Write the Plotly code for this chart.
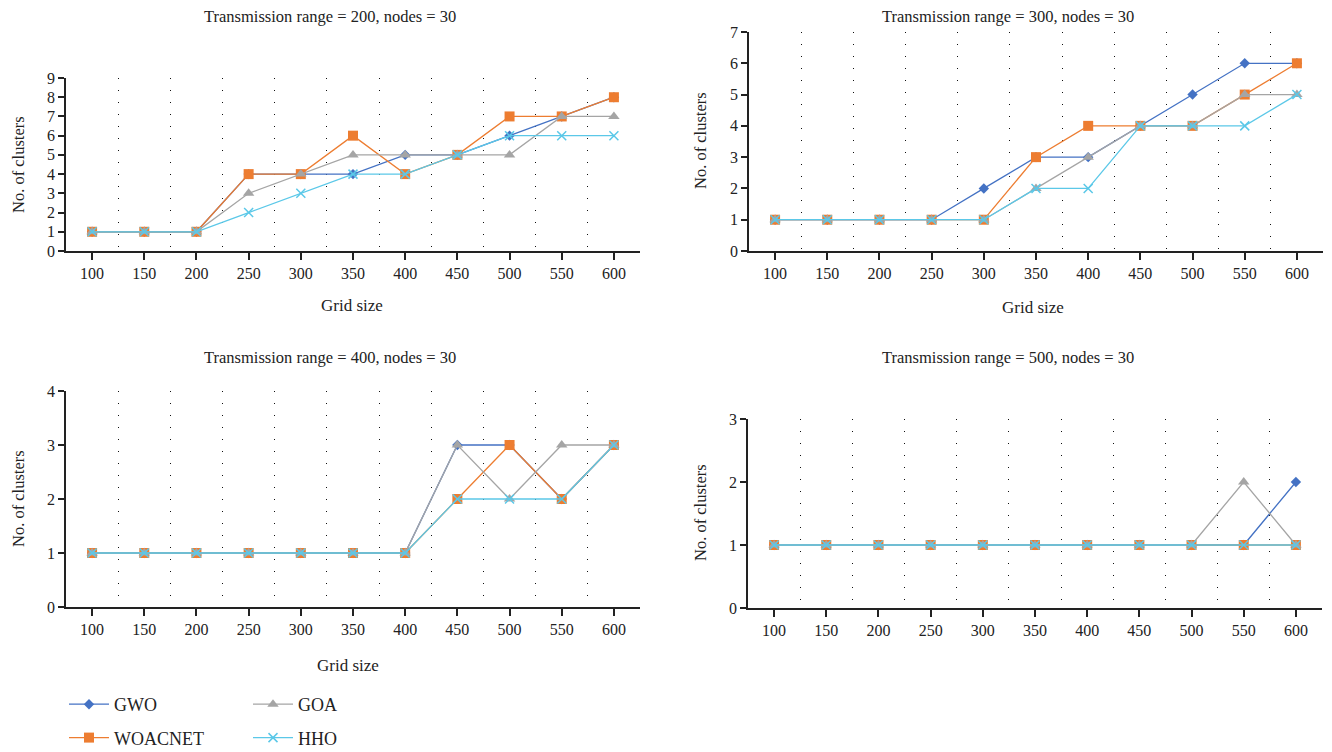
import plotly.graph_objects as go

grid = [100, 150, 200, 250, 300, 350, 400, 450, 500, 550, 600]
boundaries = [125, 175, 225, 275, 325, 375, 425, 475, 525, 575, 625]

# Transmission range = 200
gwo_200 = [1, 1, 1, 4, 4, 4, 5, 5, 6, 7, 8]
woa_200 = [1, 1, 1, 4, 4, 6, 4, 5, 7, 7, 8]
goa_200 = [1, 1, 1, 3, 4, 5, 5, 5, 5, 7, 7]
hho_200 = [1, 1, 1, 2, 3, 4, 4, 5, 6, 6, 6]

# Transmission range = 300
gwo_300 = [1, 1, 1, 1, 2, 3, 3, 4, 5, 6, 6]
woa_300 = [1, 1, 1, 1, 1, 3, 4, 4, 4, 5, 6]
goa_300 = [1, 1, 1, 1, 1, 2, 3, 4, 4, 5, 5]
hho_300 = [1, 1, 1, 1, 1, 2, 2, 4, 4, 4, 5]

# Transmission range = 400
gwo_400 = [1, 1, 1, 1, 1, 1, 1, 3, 3, 2, 3]
woa_400 = [1, 1, 1, 1, 1, 1, 1, 2, 3, 2, 3]
goa_400 = [1, 1, 1, 1, 1, 1, 1, 3, 2, 3, 3]
hho_400 = [1, 1, 1, 1, 1, 1, 1, 2, 2, 2, 3]

# Transmission range = 500
gwo_500 = [1, 1, 1, 1, 1, 1, 1, 1, 1, 1, 2]
woa_500 = [1, 1, 1, 1, 1, 1, 1, 1, 1, 1, 1]
goa_500 = [1, 1, 1, 1, 1, 1, 1, 1, 1, 2, 1]
hho_500 = [1, 1, 1, 1, 1, 1, 1, 1, 1, 1, 1]

titles = ["Transmission range = 200, nodes = 30", "Transmission range = 300, nodes = 30",
          "Transmission range = 400, nodes = 30", "Transmission range = 500, nodes = 30"]
y_max = [9, 7, 4, 3]

FONT = "Liberation Serif, Times New Roman, serif"
W, H = 1332, 752

series_names = ["GWO", "WOACNET", "GOA", "HHO"]
colors = {"GWO": "#4472C4", "WOACNET": "#ED7D31", "GOA": "#A5A5A5", "HHO": "#5BC8E8"}
symbols = {"GWO": "diamond", "WOACNET": "square", "GOA": "triangle-up", "HHO": "x-thin-open"}
msize = {"GWO": 8, "WOACNET": 10, "GOA": 10, "HHO": 9}
legend_of = {"GWO": "legend", "WOACNET": "legend", "GOA": "legend2", "HHO": "legend2"}

panels = [
    dict(GWO=gwo_200, WOACNET=woa_200, GOA=goa_200, HHO=hho_200),
    dict(GWO=gwo_300, WOACNET=woa_300, GOA=goa_300, HHO=hho_300),
    dict(GWO=gwo_400, WOACNET=woa_400, GOA=goa_400, HHO=hho_400),
    dict(GWO=gwo_500, WOACNET=woa_500, GOA=goa_500, HHO=hho_500),
]

# pixel geometry: (left, right, top, bottom)
geom = [(66, 640, 78, 251), (749, 1323, 32, 251), (66, 640, 391, 607), (748, 1322, 419, 608)]

fig = go.Figure()
for i, data in enumerate(panels):
    ax = "" if i == 0 else str(i + 1)
    for name in series_names:
        sym = symbols[name]
        marker = dict(symbol=sym, size=msize[name], color=colors[name])
        if sym.endswith("open"):
            marker["line"] = dict(width=1.5, color=colors[name])
        else:
            marker["line"] = dict(width=0)
        fig.add_trace(go.Scatter(
            x=grid, y=data[name], mode="lines+markers", name=name,
            line=dict(color=colors[name], width=1.3), marker=marker,
            xaxis="x" + ax, yaxis="y" + ax,
            showlegend=(i == 0), legend=legend_of[name], legendgroup=name,
        ))

layout = dict(
    width=W, height=H, margin=dict(l=0, r=0, t=0, b=0, autoexpand=False),
    paper_bgcolor="white", plot_bgcolor="white",
    font=dict(family=FONT, size=16, color="#222"),
    showlegend=True,
)

annotations = []
for i, (l, r, t, b) in enumerate(geom):
    ax = "" if i == 0 else str(i + 1)
    xd = [l / W, r / W]
    yd = [1 - b / H, 1 - t / H]
    layout["xaxis" + ax] = dict(
        domain=xd, range=[75, 625], anchor="y" + ax,
        tickmode="array", tickvals=grid, ticktext=[str(g) for g in grid],
        showgrid=False, zeroline=False, showline=True, linecolor="#222", linewidth=1.5,
        ticks="outside", ticklen=7, tickwidth=1.5, tickcolor="#222",
        tickfont=dict(family=FONT, size=16, color="#222"),
        minor=dict(tickmode="array", tickvals=boundaries, showgrid=True,
                   griddash="1px,11px", gridcolor="#111", gridwidth=1.3, ticks=""),
    )
    layout["yaxis" + ax] = dict(
        domain=yd, range=[0, y_max[i]], anchor="x" + ax, dtick=1,
        showgrid=False, zeroline=False, showline=True, linecolor="#222", linewidth=1.5,
        ticks="outside", ticklen=6, tickwidth=1.5, tickcolor="#222",
        tickfont=dict(family=FONT, size=16, color="#222"),
    )

# subplot titles
title_pos = [(330, 16), (1008, 16), (330, 357), (1008, 357)]
for (cx, cy), txt in zip(title_pos, titles):
    annotations.append(dict(text=txt, x=cx / W, y=1 - cy / H, xref="paper", yref="paper",
                            showarrow=False, xanchor="center", yanchor="middle",
                            font=dict(family=FONT, size=16.5, color="#222")))
# axis titles
ylab_pos = [(18, 165), (700, 141), (18, 499), (700, 513)]
for (cx, cy) in ylab_pos:
    annotations.append(dict(text="No. of clusters", x=cx / W, y=1 - cy / H, xref="paper", yref="paper",
                            showarrow=False, textangle=-90, xanchor="center", yanchor="middle",
                            font=dict(family=FONT, size=16.5, color="#222")))
xlab_pos = [(352, 305), (1033, 307), (348, 665)]
for (cx, cy) in xlab_pos:
    annotations.append(dict(text="Grid size", x=cx / W, y=1 - cy / H, xref="paper", yref="paper",
                            showarrow=False, xanchor="center", yanchor="middle",
                            font=dict(family=FONT, size=17, color="#222")))
layout["annotations"] = annotations

leg_common = dict(orientation="v", traceorder="grouped", tracegroupgap=7,
                  font=dict(family=FONT, size=18, color="#222"), bgcolor="rgba(0,0,0,0)",
                  xanchor="left", yanchor="top", itemwidth=40)
layout["legend"] = dict(leg_common, x=64 / W, y=1 - 686 / H)
layout["legend2"] = dict(leg_common, x=248 / W, y=1 - 686 / H)

fig.update_layout(**layout)
fig.write_html("out.html")
